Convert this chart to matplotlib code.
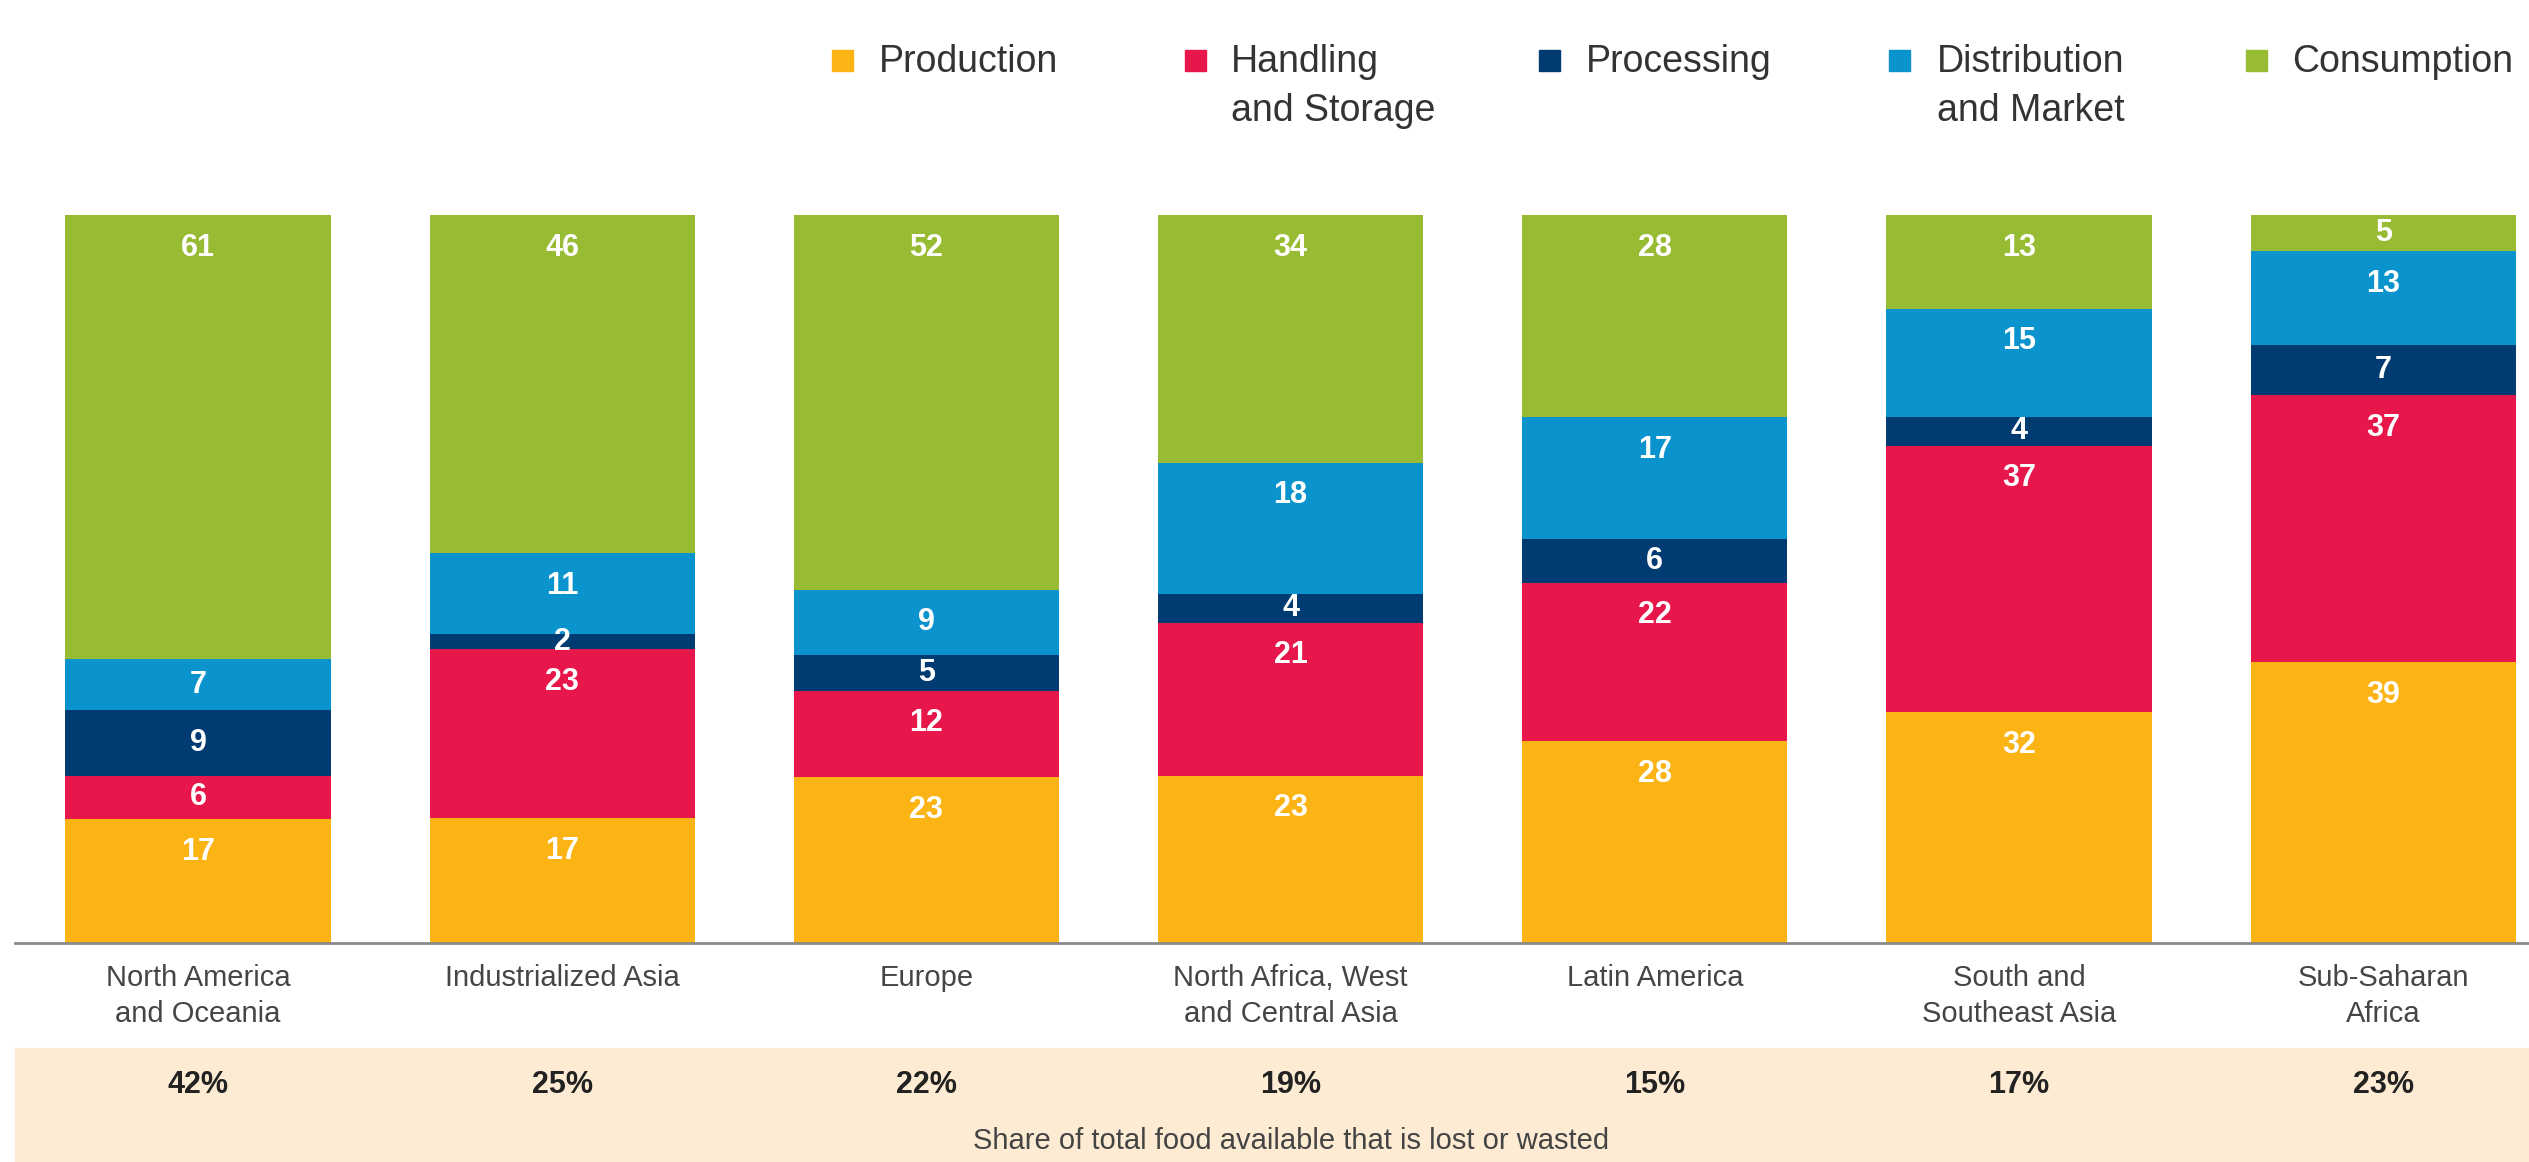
import matplotlib
matplotlib.use("Agg")
import matplotlib.pyplot as plt
import matplotlib.transforms as mtransforms
from matplotlib.patches import Rectangle
import numpy as np

plt.rcParams['font.family'] = ['Liberation Sans', 'DejaVu Sans']

regions = ["North America\nand Oceania", "Industrialized Asia", "Europe",
           "North Africa, West\nand Central Asia", "Latin America",
           "South and\nSoutheast Asia", "Sub-Saharan\nAfrica"]
stages = ["Production", "Handling\nand Storage", "Processing",
          "Distribution\nand Market", "Consumption"]
production = [17, 17, 23, 23, 28, 32, 39]
handling = [6, 23, 12, 21, 22, 37, 37]
processing = [9, 2, 5, 4, 6, 4, 7]
distribution = [7, 11, 9, 18, 17, 15, 13]
consumption = [61, 46, 52, 34, 28, 13, 5]
share_lost = ["42%", "25%", "22%", "19%", "15%", "17%", "23%"]

colors = ["#FBB414", "#E8174B", "#003B71", "#0A93CC", "#97BB33"]

W, H = 2529, 1162
fig = plt.figure(figsize=(W / 100, H / 100), dpi=100)
ax = fig.add_axes([0, 1 - 943 / H, 1, (943 - 215) / H])

values = np.array([production, handling, processing, distribution, consumption], dtype=float)
totals = values.sum(axis=0)
heights = values / totals * 100
x = np.arange(len(regions))

bottom = np.zeros(len(regions))
for k in range(len(stages)):
    ax.bar(x, heights[k], bottom=bottom, width=0.728, color=colors[k], zorder=2)
    for i in range(len(regions)):
        top = bottom[i] + heights[k][i]
        y = top - min(4.5, heights[k][i] / 2)
        ax.text(x[i], y, str(int(values[k][i])), ha="center", va="center",
                color="white", fontsize=22, fontweight="bold", zorder=3)
    bottom += heights[k]

ax.set_xlim(-198 / 364.2, (W - 198) / 364.2)
ax.set_ylim(0, 100)
for s in ax.spines.values():
    s.set_visible(False)
ax.set_yticks([])
ax.axhline(0, xmin=15 / W, color="#8a8a8a", lw=2, clip_on=False, zorder=4)

ax.set_xticks(x, regions)
ax.tick_params(axis="x", length=0, pad=15, labelsize=21, labelcolor="#454545")
for lbl in ax.get_xticklabels():
    lbl.set_linespacing(1.35)

# bottom band with share of food lost
fig.add_artist(Rectangle((15 / W, 0), 1, (H - 1048) / H, transform=fig.transFigure,
                         color="#FDEBD3", zorder=0))
blend = mtransforms.blended_transform_factory(ax.transData, fig.transFigure)
for i, s in enumerate(share_lost):
    ax.text(x[i], 1 - 1085 / H, s, transform=blend, ha="center", va="center",
            fontsize=22, fontweight="bold", color="#222222")
ax.text(x[3], 1 - 1141 / H, "Share of total food available that is lost or wasted",
        transform=blend, ha="center", va="center", fontsize=21, color="#444444")

# legend
sq_x = [832, 1185, 1539, 1889, 2246]
tx_x = [879, 1231, 1586, 1937, 2292]
for k in range(len(stages)):
    fig.add_artist(Rectangle((sq_x[k] / W, 1 - 71 / H), 21 / W, 21 / H,
                             transform=fig.transFigure, color=colors[k]))
    fig.text(tx_x[k] / W, 1 - 44 / H, stages[k], ha="left", va="top",
             fontsize=27, color="#333333", linespacing=1.45)

fig.savefig("out.png", dpi=100)
